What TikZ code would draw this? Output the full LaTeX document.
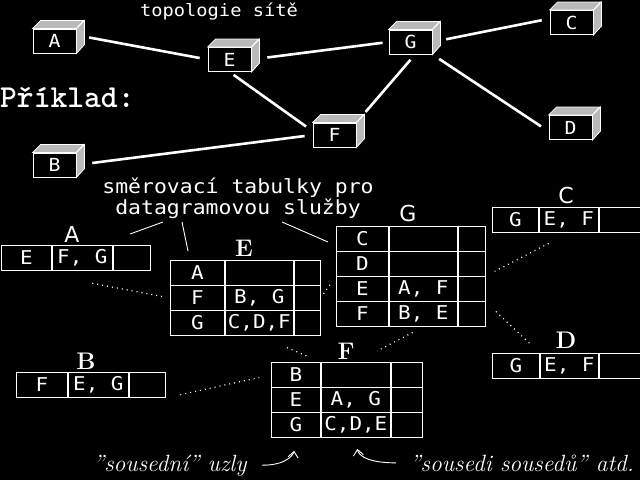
\documentclass[tikz,border=0pt]{standalone}
\usepackage{fontspec}
\usepackage{tikz}
\usetikzlibrary{arrows.meta}
\newfontfamily\pixfont[FakeStretch=1.1]{DejaVu Sans Mono}
\newfontfamily\labfont{DejaVu Sans}
% one table row: name, x, y, three widths, two texts
\newcommand{\tabrow}[8]{%
  \node[tcell, minimum width=#4, anchor=north west] (#1-1) at (#2,#3) {#7};
  \node[tcell, minimum width=#5, anchor=north west] (#1-2) at (#1-1.north east) {#8};
  \node[tcell, minimum width=#6, anchor=north west] (#1-3) at (#1-2.north east) {};
}

\begin{document}
\begin{tikzpicture}[x=1pt, y=-1pt, color=white,
  host/.style={draw, fill=black, line width=0.9pt, minimum width=43pt, minimum height=24pt, inner sep=0pt, font=\pixfont\fontsize{18}{18}\selectfont},
  face/.style={draw, fill=gray!55, line width=0.8pt},
  link/.style={line width=2.6pt},
  tcell/.style={draw, line width=0.9pt, minimum height=25pt, inner sep=0pt, font=\pixfont\fontsize{19}{19}\selectfont},
  lab/.style={font=\rmfamily\bfseries\fontsize{24}{24}\selectfont},
  labs/.style={font=\labfont\fontsize{22}{22}\selectfont},
  dots/.style={line width=1.2pt, dash pattern=on 1pt off 4pt},
  pointer/.style={line width=0.9pt},
  note/.style={line width=0.9pt, -{Straight Barb[length=6pt,width=10pt]}}
]
\useasboundingbox (0,0) rectangle (640,480);
\fill[black] (0,0) rectangle (640,480);

% topologie
\node[font=\pixfont\fontsize{17}{17}\selectfont, anchor=base] (title) at (219,16) {topologie sítě};
\node[font=\ttfamily\bfseries\fontsize{32}{32}\selectfont, anchor=base west, inner sep=0pt] (ex) at (0,107) {Příklad:};

\node[host] (A) at (54.5,41) {A};
\node[host] (E) at (229.5,59.5) {E};
\node[host] (B) at (54.5,165) {B};
\node[host] (G) at (410.5,42) {G};
\node[host] (C) at (571.5,22.5) {C};
\node[host] (D) at (570.5,127.5) {D};
\node[host] (F) at (334.5,135) {F};
\foreach \n in {A,B,C,D,E,F,G}{
  \filldraw[face] (\n.north west) -- ++(8,-8) -- ++(43,0) -- (\n.north east) -- cycle;
  \filldraw[face] (\n.north east) -- ++(8,-8) -- ++(0,24) -- (\n.south east) -- cycle;
}

\draw[link, shorten <=13pt, shorten >=8pt] (A.15) -- (E.west);
\draw[link, shorten <=16pt, shorten >=6pt] (E.east) -- (G.west);
\draw[link, shorten <=5pt, shorten >=8pt] (E.south) -- (F.170);
\draw[link, shorten <=16pt, shorten >=8pt] (B.east) -- (F.west);
\draw[link, shorten <=14pt, shorten >=7pt] (F.north east) -- (G.-70);
\draw[link, shorten <=14pt, shorten >=8pt] (G.east) -- (C.170);
\draw[link, shorten <=8pt, shorten >=9pt] (G.south east) -- (D.190);

% smerovaci tabulky
\node[font=\pixfont\fontsize{19.5}{18}\selectfont, align=center, anchor=south, inner sep=0pt] (cap) at (238,219) {směrovací tabulky pro\\datagramovou služby};
\draw[pointer] ([xshift=-75pt,yshift=-3pt]cap.south) -- ++(-33,12);
\draw[pointer] ([xshift=-56pt,yshift=-3pt]cap.south) -- ++(6,29);
\draw[pointer] ([xshift=44pt,yshift=-3pt]cap.south) -- ++(46,20);

\node[labs] (labA) at (72,234) {A};
\tabrow{tabA1}{1}{245}{50pt}{60pt}{37pt}{E}{F, G}

\node[lab] (labE) at (244,248) {E};
\tabrow{tabE1}{170}{260}{54pt}{68pt}{26pt}{A}{}
\tabrow{tabE2}{170}{285}{54pt}{68pt}{26pt}{F}{B, G}
\tabrow{tabE3}{170}{310}{54pt}{68pt}{26pt}{G}{C,D,F}

\node[labs] (labG) at (408,213) {G};
\tabrow{tabG1}{336}{226}{52pt}{68pt}{27pt}{C}{}
\tabrow{tabG2}{336}{251}{52pt}{68pt}{27pt}{D}{}
\tabrow{tabG3}{336}{276}{52pt}{68pt}{27pt}{E}{A, F}
\tabrow{tabG4}{336}{301}{52pt}{68pt}{27pt}{F}{B, E}

\node[labs] (labC) at (566,195) {C};
\tabrow{tabC1}{492}{207}{46pt}{59pt}{42pt}{G}{E, F}

\node[lab] (labD) at (566,340) {D};
\tabrow{tabD1}{492}{353}{47pt}{58pt}{42pt}{G}{E, F}

\node[lab] (labB) at (86,361) {B};
\tabrow{tabB1}{16}{372}{51pt}{60pt}{36pt}{F}{E, G}

\node[lab] (labF) at (346,351) {F};
\tabrow{tabF1}{271}{362}{49pt}{69pt}{31pt}{B}{}
\tabrow{tabF2}{271}{387}{49pt}{69pt}{31pt}{E}{A, G}
\tabrow{tabF3}{271}{412}{49pt}{69pt}{31pt}{G}{C,D,E}

\draw[dots, shorten <=67pt, shorten >=7pt] (tabA1-1.south) -- (tabE2-1.west);
\draw[dots, shorten <=5pt, shorten >=7pt] (tabE2-3.east) -- (tabG3-1.north west);
\draw[dots, shorten <=10pt, shorten >=20pt] (tabG3-3.north east) -- (tabC1-2.south);
\draw[dots, shorten <=14pt, shorten >=12pt] (tabG3-3.south east) -- (tabD1-2.north west);
\draw[dots, shorten <=12pt, shorten >=24pt] (tabG4-2.south) -- (tabF1-2.north);
\draw[dots, shorten <=30pt, shorten >=13pt] (tabE3-2.south) -- (tabF1-1.north east);
\draw[dots, shorten <=15pt, shorten >=12pt] (tabB1-3.south east) -- (tabF1-1.west);

% sousedi
\node[font=\itshape\fontsize{23.5}{23.5}\selectfont, anchor=base east] (lneigh) at (250,471) {"sousední" uzly};
\node[font=\itshape\fontsize{23.5}{23.5}\selectfont, anchor=base west] (rneigh) at (406,471) {"sousedi sousedů" atd.};
\draw[note, shorten <=12pt, shorten >=13pt] (lneigh.east) .. controls +(40,0) and +(-2,14) .. (tabF3-1.south);
\draw[note, shorten <=10pt, shorten >=11pt] (rneigh.west) .. controls +(-45,0) and +(2,14) .. (tabF3-2.south);
\end{tikzpicture}
\end{document}
